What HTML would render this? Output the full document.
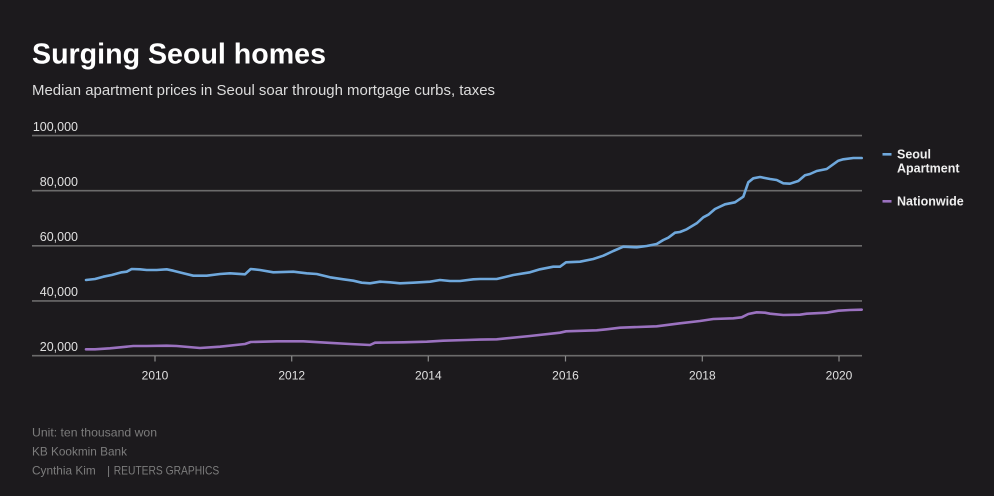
<!DOCTYPE html>
<html>
<head>
<meta charset="utf-8">
<style>
  html,body{margin:0;padding:0;background:#1c1a1d;}
  svg{display:block;}
  text{font-family:"Liberation Sans",sans-serif;}
</style>
</head>
<body>
<svg width="994" height="496" viewBox="0 0 994 496" xmlns="http://www.w3.org/2000/svg">
  <rect width="994" height="496" fill="#1c1a1d"/>
  <text x="32" y="63.3" font-size="29" font-weight="bold" fill="#ffffff" textLength="294" lengthAdjust="spacingAndGlyphs">Surging Seoul homes</text>
  <text x="32" y="95" font-size="15" fill="#dcdcdc" textLength="463" lengthAdjust="spacingAndGlyphs">Median apartment prices in Seoul soar through mortgage curbs, taxes</text>

  <!-- gridlines -->
  <g stroke="#6b6b6b" stroke-width="1.6">
    <line x1="32" y1="135.6" x2="862" y2="135.6"/>
    <line x1="32" y1="190.7" x2="862" y2="190.7"/>
    <line x1="32" y1="245.8" x2="862" y2="245.8"/>
    <line x1="32" y1="300.9" x2="862" y2="300.9"/>
    <line x1="32" y1="355.7" x2="862" y2="355.7"/>
  </g>
  <g stroke="#8a8a8a" stroke-width="1.2">
    <line x1="155" y1="356" x2="155" y2="361.5"/>
    <line x1="291.7" y1="356" x2="291.7" y2="361.5"/>
    <line x1="428.3" y1="356" x2="428.3" y2="361.5"/>
    <line x1="565.5" y1="356" x2="565.5" y2="361.5"/>
    <line x1="702.3" y1="356" x2="702.3" y2="361.5"/>
    <line x1="839" y1="356" x2="839" y2="361.5"/>
  </g>

  <!-- y labels -->
  <g font-size="12.5" fill="#e0e0e0" text-anchor="end">
    <text x="78" y="131">100,000</text>
    <text x="78" y="186">80,000</text>
    <text x="78" y="241">60,000</text>
    <text x="78" y="296">40,000</text>
    <text x="78" y="351">20,000</text>
  </g>
  <!-- x labels -->
  <g font-size="12" fill="#e0e0e0" text-anchor="middle">
    <text x="155" y="379.5">2010</text>
    <text x="291.7" y="379.5">2012</text>
    <text x="428.3" y="379.5">2014</text>
    <text x="565.5" y="379.5">2016</text>
    <text x="702.3" y="379.5">2018</text>
    <text x="839" y="379.5">2020</text>
  </g>

  <!-- Seoul -->
  <polyline fill="none" stroke="#6fa8dc" stroke-width="2.6" stroke-linejoin="round" stroke-linecap="round"
    points="86,280 95,279 103.3,276.7 111.7,275 121.7,272.3 126.7,271.7 131.7,269 140,269.3 146.7,270 156.7,270 166.7,269.3 173.3,270.7 183.3,273.3 193.3,275.7 206.7,275.7 220,274 230,273.3 245,274.3 250.7,269 260,270 273.3,272.3 293.3,271.7 306.7,273.3 316.7,274 330,277.3 343.3,279.3 353.3,280.7 361.7,282.7 370,283.3 380,281.7 390,282.3 400,283.3 413.3,282.7 430,281.7 440,280 450,281 460,281 473.3,279.3 480,279 496.7,279 513.3,275 530,272.3 540,269.3 553.3,266.7 560,266.7 566,262.3 580,261.7 593.3,259 603.3,255.7 613.3,251 623.3,246.7 636.7,247.3 646.7,246 656.7,244 663.3,240 668.3,237.7 675,232.7 680,232 686.7,229.3 696.7,223.3 703.3,217.3 708.3,214.7 715,209 725,204.3 735,202.3 743.3,196.7 748.3,182.3 753.3,178.3 760,177 770,179 776.7,180 783.3,183.3 790,183.7 798.3,181 805,175.3 810,174 816.7,171 826.7,169 838.3,160.7 843.3,159.3 853.3,158 861.7,158"/>
  <!-- Nationwide -->
  <polyline fill="none" stroke="#9b72c0" stroke-width="2.6" stroke-linejoin="round" stroke-linecap="round"
    points="86,349.3 95,349.3 110,348.3 133.3,346 146.7,346 166.7,345.7 176.7,346 200,348 220,346.7 245,344 250.7,342 276.7,341.3 303.3,341.3 326.7,342.7 350,344 370,345 375,342.7 403.3,342.3 426.7,341.7 443.3,340.7 466.7,340 480,339.6 496.7,339.3 530,336 560,332.7 566,331.3 596.7,330.3 606.7,329.3 620,327.7 656.7,326.3 680,323.3 700,321 713.3,319 733.3,318.3 741.7,317.3 748.3,314 756.7,312.3 765,312.7 770,313.7 783.3,315 800,314.7 806.7,313.7 826.7,312.7 838.3,310.7 850,310 861.7,309.7"/>

  <!-- legend -->
  <line x1="882.5" y1="154.3" x2="891.5" y2="154.3" stroke="#6fa8dc" stroke-width="2.6"/>
  <text x="897" y="158.3" font-size="12.5" font-weight="bold" fill="#eeeeee">Seoul</text>
  <text x="897" y="172.7" font-size="12.5" font-weight="bold" fill="#eeeeee">Apartment</text>
  <line x1="882.5" y1="201.3" x2="891.5" y2="201.3" stroke="#9b72c0" stroke-width="2.6"/>
  <text x="897" y="205.5" font-size="12.5" font-weight="bold" fill="#eeeeee">Nationwide</text>

  <!-- footer -->
  <g font-size="12" fill="#7c7c7c">
    <text x="32" y="436.7" textLength="125" lengthAdjust="spacingAndGlyphs">Unit: ten thousand won</text>
    <text x="32" y="455.7" textLength="95" lengthAdjust="spacingAndGlyphs">KB Kookmin Bank</text>
    <text x="32" y="474.7" textLength="63.7" lengthAdjust="spacingAndGlyphs">Cynthia Kim</text>
    <text x="107" y="474.7">|</text>
    <text x="113.7" y="474.7" textLength="105.6" lengthAdjust="spacingAndGlyphs">REUTERS GRAPHICS</text>
  </g>
</svg>
</body>
</html>
